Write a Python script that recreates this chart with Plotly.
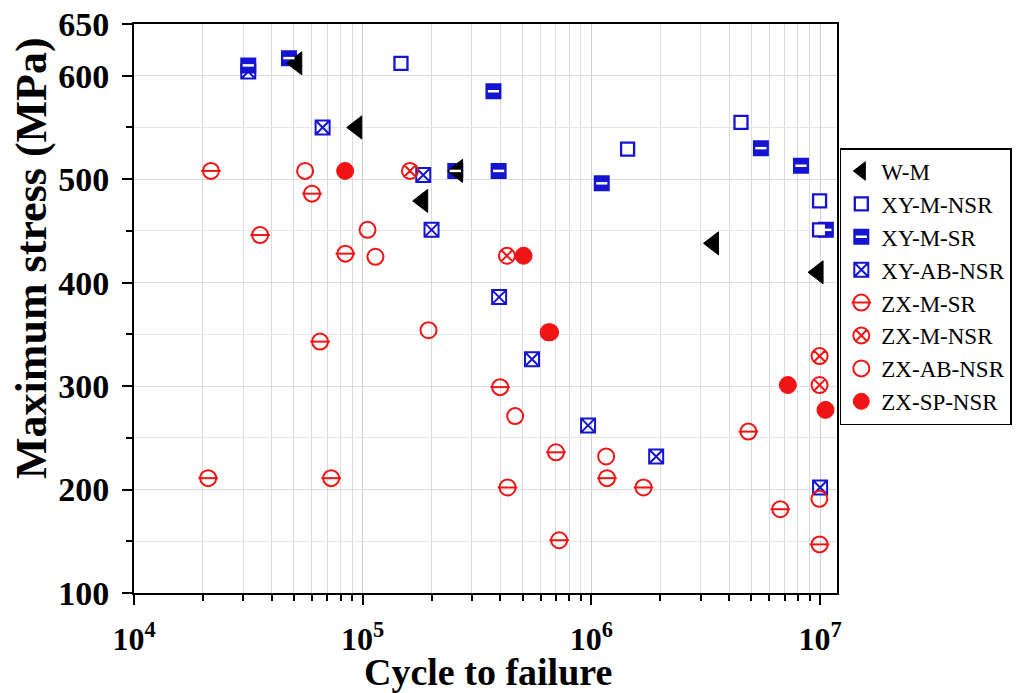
import plotly.graph_objects as go

# ---- data (cycles to failure, maximum stress MPa) ----
wm_x = [5.15e4, 9.42e4, 2.6e5, 1.83e5, 3.42e6, 9.8e6]
wm_y = [612, 550, 508, 479, 438, 410]

xymnsr_x = [1.47e5, 1.44e6, 4.51e6, 9.95e6, 9.95e6]
xymnsr_y = [612, 529, 555, 479, 451]

xymsr_x = [3.16e4, 4.76e4, 2.54e5, 3.73e5, 3.93e5, 1.11e6, 5.51e6, 8.25e6, 1.06e7]
xymsr_y = [610, 617, 508, 585, 508, 496, 530, 513, 451]

xyabnsr_x = [3.16e4, 6.68e4, 1.84e5, 2.0e5, 3.95e5, 5.5e5, 9.67e5, 1.92e6, 1.0e7]
xyabnsr_y = [604, 550, 504, 451, 386, 326, 262, 232, 202]

zxmsr_x = [2.17e4, 6.0e4, 3.56e4, 8.4e4, 6.51e4, 2.11e4, 7.28e4, 3.99e5, 7.0e5,
           1.17e6, 4.3e5, 1.69e6, 7.23e5, 4.86e6, 6.7e6, 9.95e6]
zxmsr_y = [508, 486, 446, 428, 343, 211, 211, 299, 236, 211, 202, 202, 151, 256, 181, 147]

zxmnsr_x = [1.61e5, 4.27e5, 6.5e5, 9.95e6, 9.95e6]
zxmnsr_y = [508, 426, 352, 329, 301]

zxabnsr_x = [5.6e4, 1.05e5, 1.137e5, 1.94e5, 4.64e5, 1.16e6, 9.93e6]
zxabnsr_y = [508, 451, 425, 354, 271, 232, 191]

zxspnsr_x = [8.38e4, 5.05e5, 6.6e5, 7.23e6, 1.056e7]
zxspnsr_y = [508, 426, 352, 301, 277]

y_ticks = [100, 200, 300, 400, 500, 600, 650]
x_ticks = [1e4, 1e5, 1e6, 1e7]
x_ticktext = ["10<sup>4</sup>", "10<sup>5</sup>", "10<sup>6</sup>", "10<sup>7</sup>"]

BLUE = "#1414d2"
RED = "#f01414"
FONT = "Liberation Serif"

fig = go.Figure()

# (name, x, y, symbol, size, color, line, legendrank) -- draw order list
series = [
    ("XY-M-SR", xymsr_x, xymsr_y, "square", 14, BLUE, dict(color=BLUE, width=2), 3),
    ("XY-M-NSR", xymnsr_x, xymnsr_y, "square", 13, "white", dict(color=BLUE, width=2.3), 2),
    ("XY-AB-NSR", xyabnsr_x, xyabnsr_y, "square-x-open", 14, BLUE, dict(color=BLUE, width=2), 4),
    ("ZX-M-SR", zxmsr_x, zxmsr_y, "circle-open", 16, RED, dict(color=RED, width=2), 5),
    ("ZX-M-NSR", zxmnsr_x, zxmnsr_y, "circle-x-open", 16, RED, dict(color=RED, width=2), 6),
    ("ZX-AB-NSR", zxabnsr_x, zxabnsr_y, "circle-open", 16, RED, dict(color=RED, width=2), 7),
    ("ZX-SP-NSR", zxspnsr_x, zxspnsr_y, "circle", 17, RED, dict(color=RED, width=1), 8),
    ("W-M", wm_x, wm_y, "triangle-left", 20, "black", dict(color="black", width=1), 1),
]

for name, xs, ys, sym, sz, col, ln, rank in series:
    fig.add_trace(go.Scatter(
        x=xs, y=ys, mode="markers", name=name, legend="legend", legendrank=rank,
        marker=dict(symbol=sym, size=sz, color=col, line=ln),
    ))

# overlay bars (white dash on XY-M-SR, red bar on ZX-M-SR) + aligned second legend
overlay = {
    "XY-M-SR": (xymsr_x, xymsr_y, dict(symbol="line-ew", size=8,
                                        line=dict(color="white", width=2.5))),
    "ZX-M-SR": (zxmsr_x, zxmsr_y, dict(symbol="line-ew", size=14,
                                        line=dict(color=RED, width=2))),
}
for name, _, _, _, _, _, _, rank in series:
    if name in overlay:
        xs, ys, mk = overlay[name]
    else:
        xs, ys, mk = [None], [None], dict(symbol="circle", size=1,
                                          color="rgba(0,0,0,0)",
                                          line=dict(width=0))
    fig.add_trace(go.Scatter(
        x=xs, y=ys, mode="markers", name=name, legend="legend2",
        legendrank=rank, marker=mk, hoverinfo="skip",
    ))

legend_common = dict(
    x=1.004, y=0.782, xanchor="left", yanchor="top",
    font=dict(family=FONT, size=23),
    borderwidth=1.5, tracegroupgap=0, itemwidth=30,
)

# page has an 8px body margin: the plot area is placed accordingly
fig.update_layout(
    width=1020, height=685,
    margin=dict(l=126, r=191, t=16, b=100),
    paper_bgcolor="white", plot_bgcolor="white",
    font=dict(family=FONT, color="black"),
    legend=dict(**legend_common, bordercolor="black", bgcolor="white"),
    legend2=dict(**legend_common, bordercolor="rgba(0,0,0,0)",
                 bgcolor="rgba(0,0,0,0)"),
    showlegend=True,
)
fig.update_layout(legend2_font_color="rgba(0,0,0,0)")

fig.update_xaxes(
    type="log", range=[4, 7.074], automargin=False,
    tickvals=x_ticks, ticktext=x_ticktext,
    tickfont=dict(family=FONT, size=32, weight="bold"),
    ticks="outside", ticklen=10, tickwidth=2, tickcolor="black",
    ticklabelstandoff=7, ticklabeloverflow="allow",
    showline=True, linecolor="black", linewidth=2, mirror=True,
    showgrid=True, gridcolor="#cfcfcf", gridwidth=1,
    minor=dict(dtick="D1", ticks="outside", ticklen=6, tickwidth=1.5,
               tickcolor="black", showgrid=True, gridcolor="#dadada",
               gridwidth=1),
    zeroline=False,
)
fig.update_yaxes(
    range=[100, 650], automargin=False,
    tickvals=y_ticks,
    tickfont=dict(family=FONT, size=34, weight="bold"),
    ticks="outside", ticklen=10, tickwidth=2, tickcolor="black",
    ticklabelstandoff=6, ticklabeloverflow="allow",
    showline=True, linecolor="black", linewidth=2, mirror=True,
    showgrid=True, gridcolor="#dcdcdc", gridwidth=1,
    minor=dict(dtick=50, tick0=100, ticks="outside", ticklen=6, tickwidth=1.5,
               tickcolor="black", showgrid=True, gridcolor="#e6e6e6"),
    zeroline=False,
)

# axis titles as annotations (positioned like the reference)
fig.add_annotation(
    text="Maximum stress (MPa)", xref="paper", yref="paper",
    x=-0.145, y=0.589, xanchor="center", yanchor="middle", textangle=-90,
    showarrow=False, font=dict(family=FONT, size=44, weight="bold"),
)
fig.add_annotation(
    text="Cycle to failure", xref="paper", yref="paper",
    x=0.503, y=-0.139, xanchor="center", yanchor="middle",
    showarrow=False, font=dict(family=FONT, size=38, weight="bold"),
)

fig.write_html("out.html")
